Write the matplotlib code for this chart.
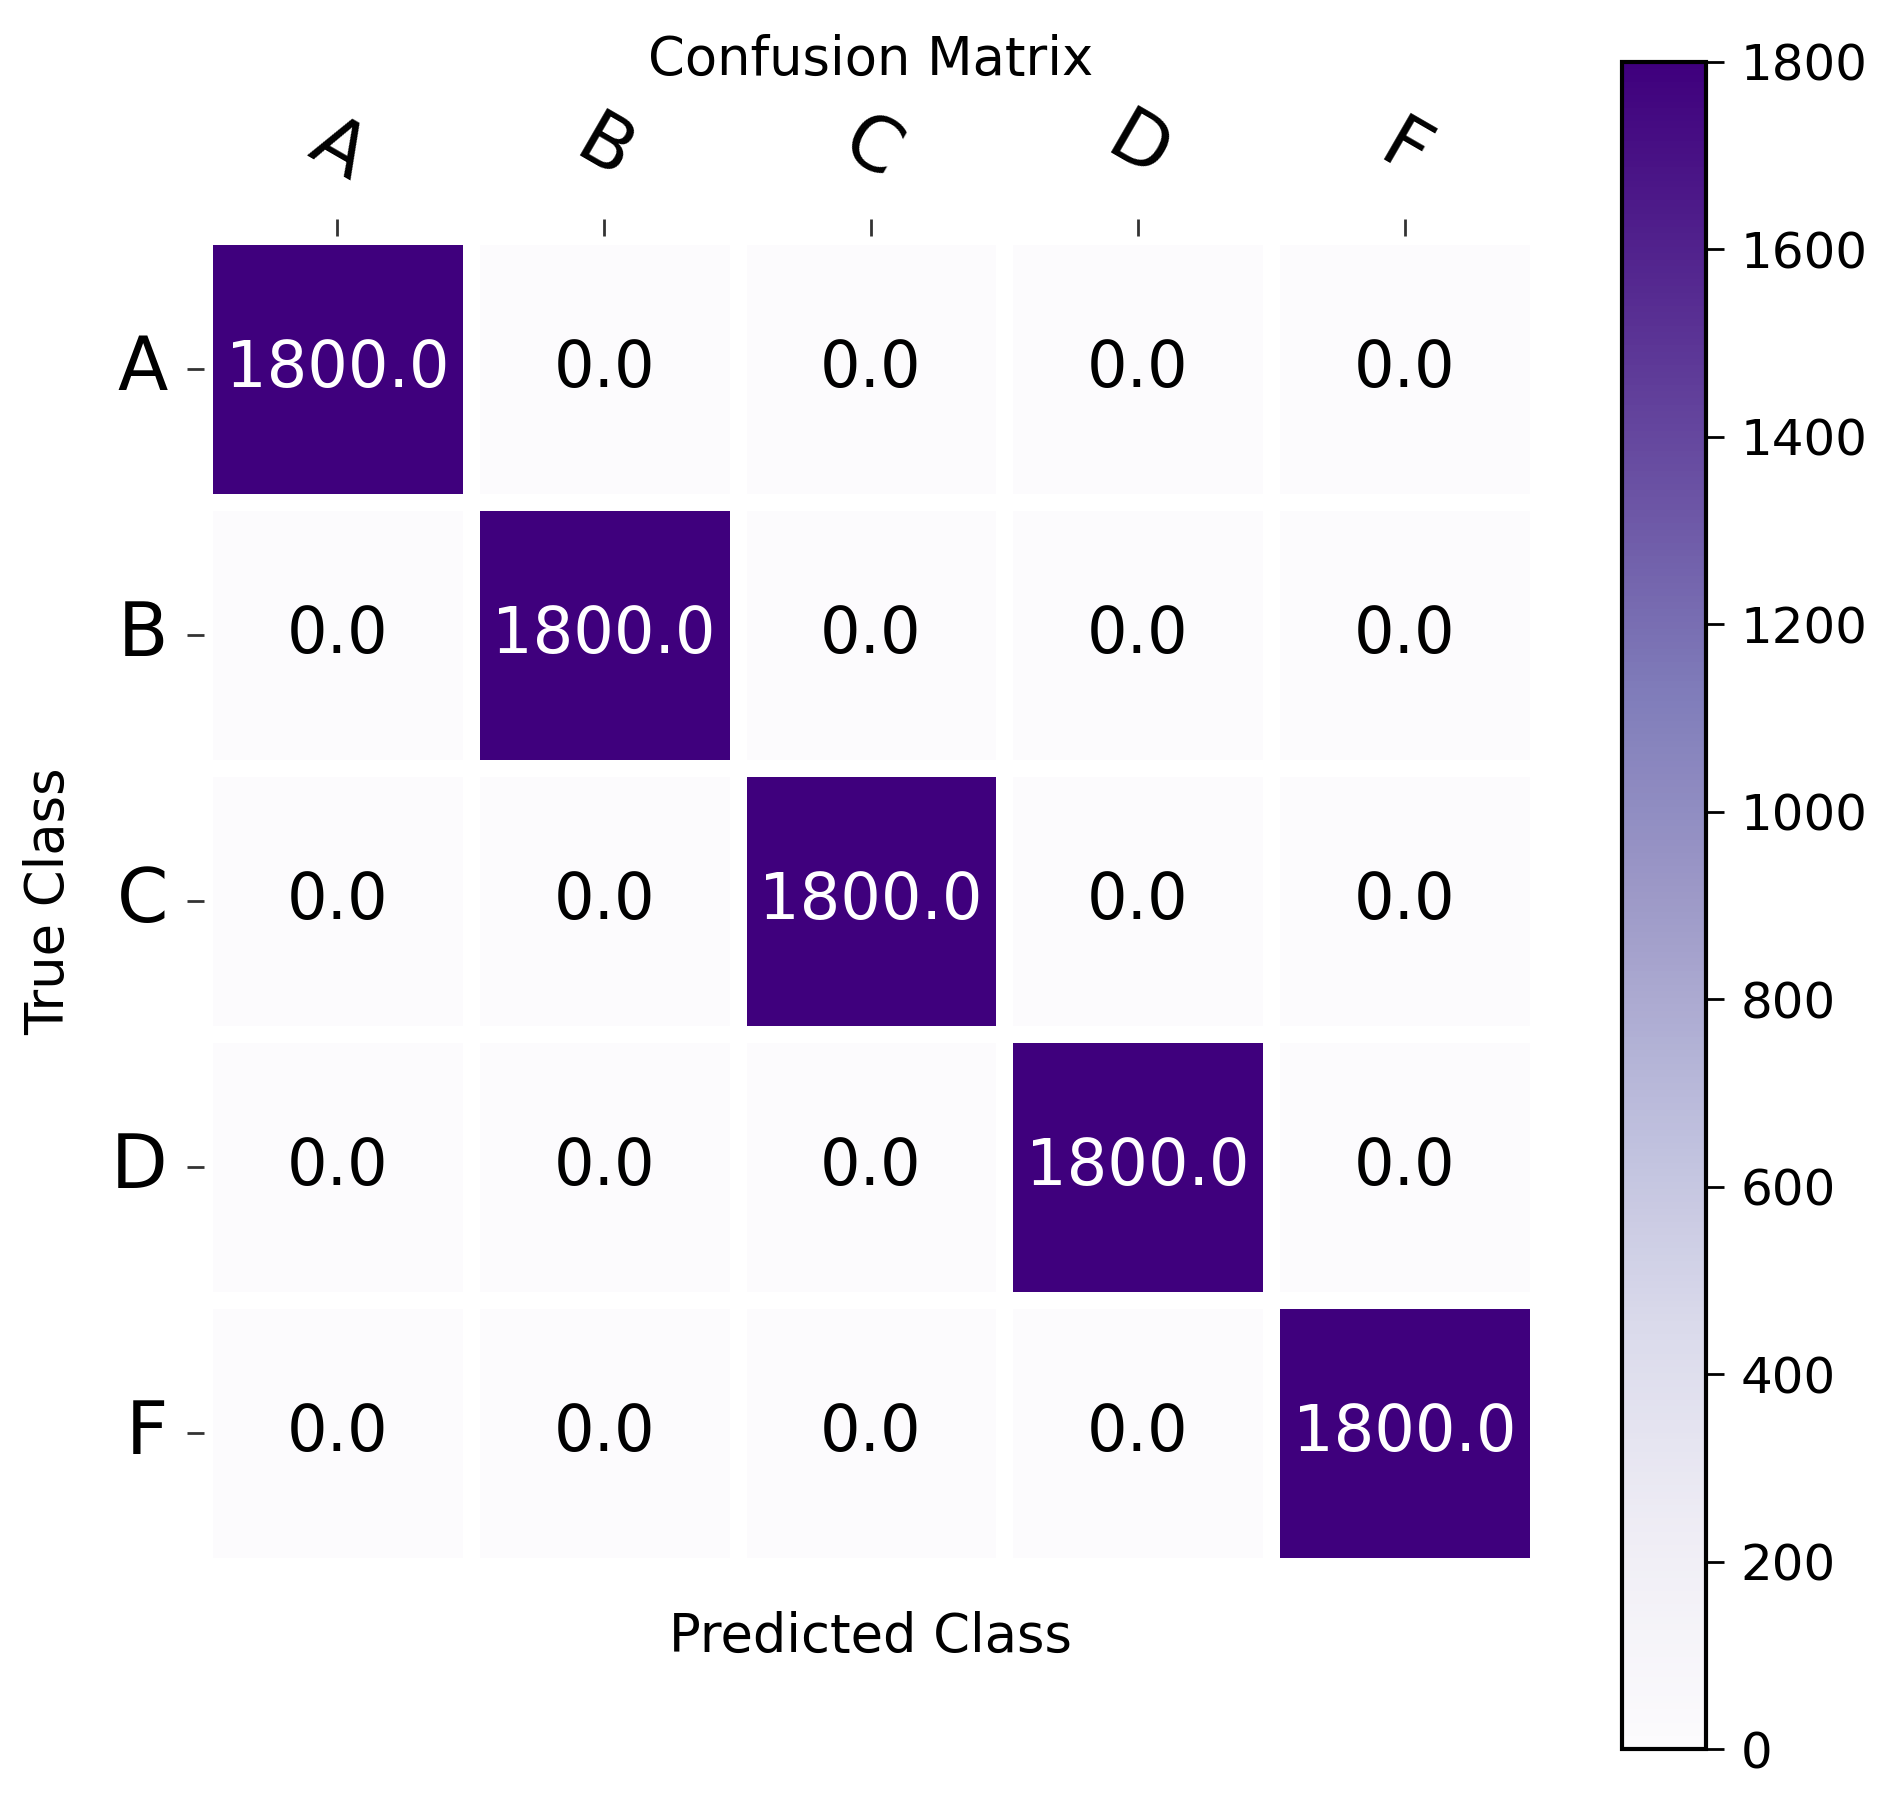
import numpy as np
import pandas as pd
import matplotlib
matplotlib.use('Agg')
import matplotlib.pyplot as plt
import seaborn as sns

# 类别和混淆矩阵数据
classes = ['A', 'B', 'C', 'D', 'F']
diag_count = [1800, 1800, 1800, 1800, 1800]
cm_values = np.diag(diag_count).astype(float)
cbar_ticks = [0, 200, 400, 600, 800, 1000, 1200, 1400, 1600, 1800]

df = pd.DataFrame(cm_values, index=classes, columns=classes)

plt.rcParams['font.family'] = ['DejaVu Sans']

fig = plt.figure(figsize=(19.01, 17.97), dpi=100)
ax = fig.add_axes([0.1073, 0.1285, 0.7017, 0.7401])
cax = fig.add_axes([0.8532, 0.0267, 0.0442, 0.9388])

sns.heatmap(df, ax=ax, cbar_ax=cax, cmap='Purples', vmin=0, vmax=1800,
            annot=True, fmt='.1f', annot_kws={'fontsize': 46},
            linewidths=12, linecolor='white', square=False)

# 注释颜色：深色格子用白色，浅色格子用黑色
for t in ax.texts:
    t.set_color('white' if float(t.get_text()) > 900 else 'black')

# x 轴刻度放在上方
ax.xaxis.tick_top()
ax.xaxis.set_label_position('bottom')
ax.set_xticklabels(classes, rotation=-30, ha='center', fontsize=54)
ax.set_yticklabels(classes, rotation=0, fontsize=53)
ax.tick_params(axis='x', length=12, width=2, pad=18, color='#333333')
ax.tick_params(axis='y', length=12, width=2, pad=14, color='#333333')

ax.set_xlabel('Predicted Class', fontsize=38, labelpad=32)
ax.set_ylabel('True Class', fontsize=38, labelpad=26)
ax.set_title('Confusion Matrix', fontsize=38, y=1.121, pad=0)

# 颜色条
cbar = ax.collections[0].colorbar
cbar.set_ticks(cbar_ticks)
cbar.outline.set_visible(True)
cbar.outline.set_linewidth(3)
cbar.outline.set_edgecolor('black')
cax.tick_params(length=13, width=2, pad=12, labelsize=36)

fig.savefig('out.png', dpi=100)
plt.close(fig)
